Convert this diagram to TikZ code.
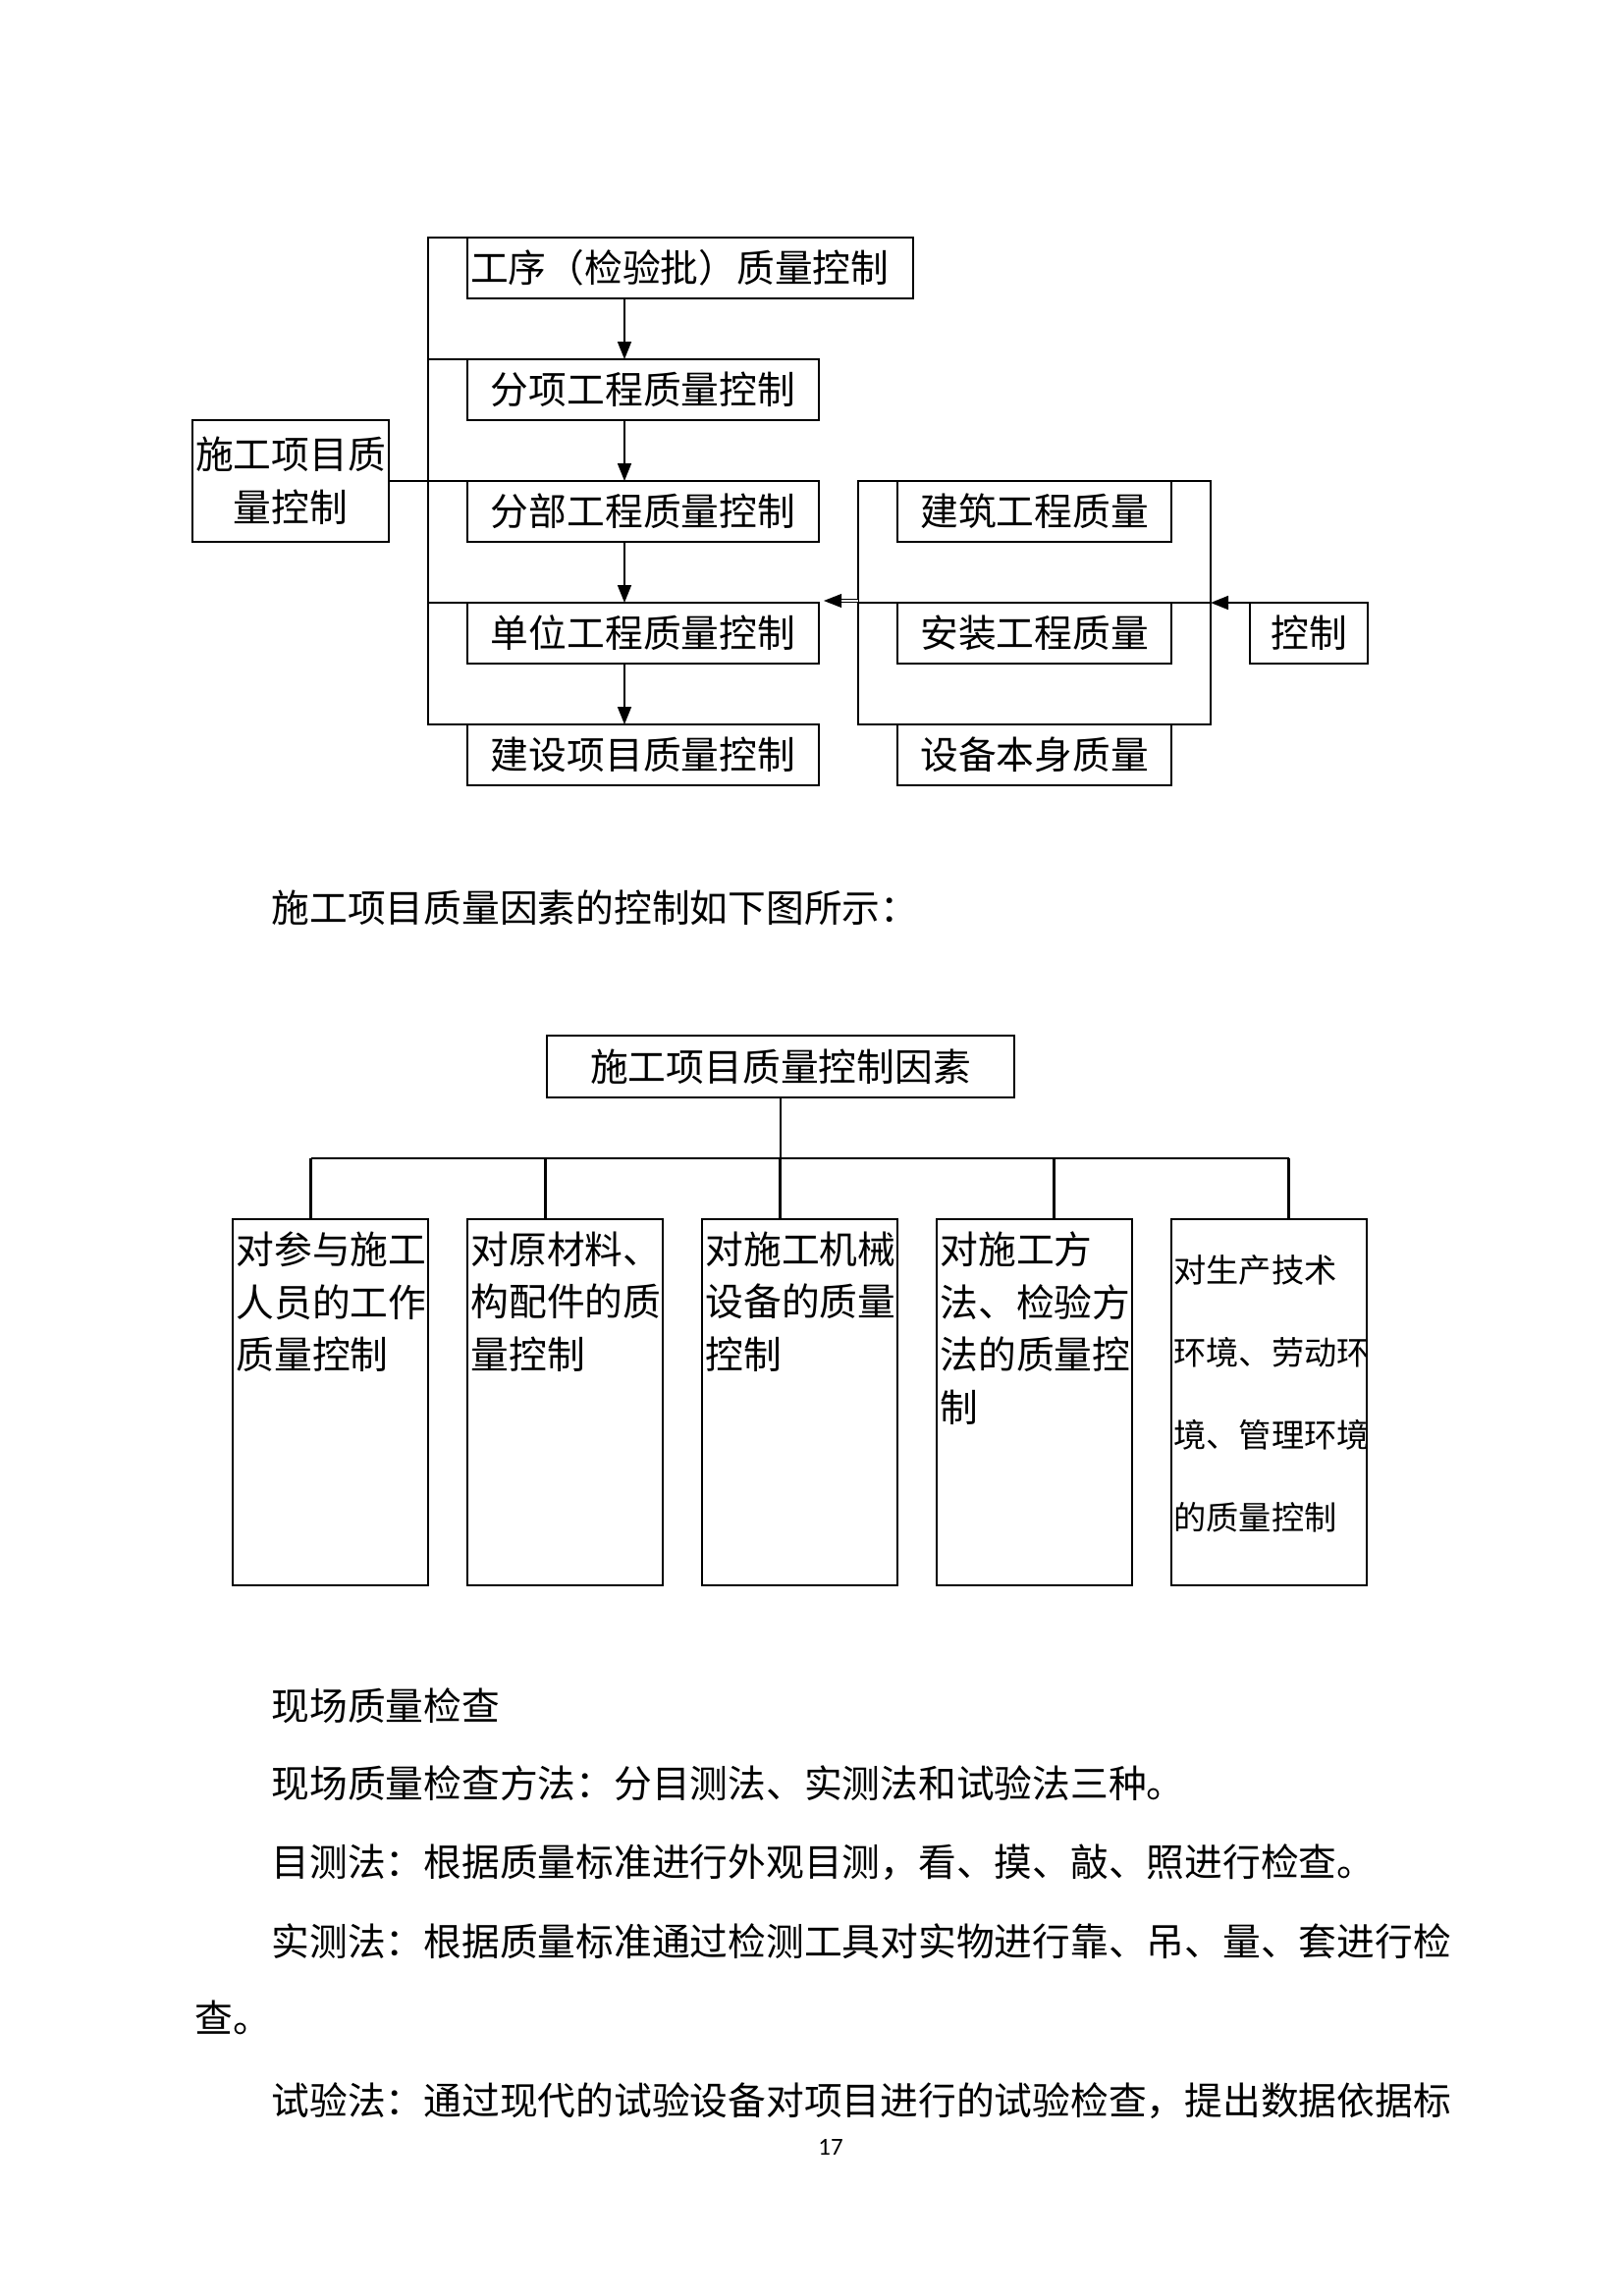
\documentclass[tikz,border=0pt]{standalone}
\usepackage{fontspec}
\setmainfont{Noto Sans CJK SC}
\newfontfamily\numfont{Carlito}
\usetikzlibrary{arrows.meta,calc}
\newdimen\px
\px=0.36127pt

\begin{document}
\begin{tikzpicture}[x=0.36127pt,y=-0.36127pt,
    box/.style={draw,line width=0.8pt,inner sep=0pt,outer sep=0pt,anchor=north west,
      minimum height=62\px,align=center,font=\fontsize{14}{19.4}\selectfont},
    factor/.style={draw,line width=0.8pt,inner sep=0pt,outer sep=0pt,anchor=north west,
      minimum width=199\px,minimum height=373\px},
    factortext/.style={anchor=north west,inner sep=0pt,align=left,font=\fontsize{14}{19.4}\selectfont},
    body/.style={anchor=west,inner sep=0pt,font=\fontsize{14}{17}\selectfont},
    link/.style={line width=0.8pt},
    arr/.style={line width=0.8pt,-{Triangle[length=6.5pt,width=5pt]}}]
  \useasboundingbox (0,0) rectangle (1654,2339);

  % levels of quality control
  \node[box,minimum width=200\px,minimum height=124\px] (src) at (196,428) {施工项目质\\量控制};
  \node[box,minimum width=454\px,inner xsep=3\px,text width=448\px,align=left] (b1) at (476,242) {工序（检验批）质量控制};
  \node[box,minimum width=358\px] (b2) at (476,366) {分项工程质量控制};
  \node[box,minimum width=358\px] (b3) at (476,490) {分部工程质量控制};
  \node[box,minimum width=358\px] (b4) at (476,614) {单位工程质量控制};
  \node[box,minimum width=358\px] (b5) at (476,738) {建设项目质量控制};

  % quality groups on the right
  \node[box,minimum width=279\px] (r1) at (914,490) {建筑工程质量};
  \node[box,minimum width=279\px] (r2) at (914,614) {安装工程质量};
  \node[box,minimum width=279\px] (r3) at (914,738) {设备本身质量};
  \node[box,minimum width=120\px] (ctl) at (1273,614) {控制};

  \coordinate (lb) at (436,0);
  \coordinate (ax) at (636,0);
  \coordinate (rl) at (874,0);
  \coordinate (rr) at (1233,0);

  % left bracket
  \draw[link] (b1.north west) -- (b1.north west -| lb) -- (b5.north west -| lb) -- (b5.north west);
  \foreach \b in {b2,b3,b4}
    \draw[link] (\b.north west -| lb) -- (\b.north west);
  \draw[link] (src.east) -- (b3.north west -| lb);

  % arrows down
  \draw[arr] (b1.south -| ax) -- (b2.north -| ax);
  \draw[arr] (b2.south -| ax) -- (b3.north -| ax);
  \draw[arr] (b3.south -| ax) -- (b4.north -| ax);
  \draw[arr] (b4.south -| ax) -- (b5.north -| ax);

  % right bracket
  \draw[link] (r1.north west -| rl) rectangle (r3.north east -| rr);
  \draw[link] (r2.north west -| rl) -- (r2.north east -| rr);
  \draw[arr] (ctl.north west) -- (ctl.north west -| rr);
  \draw[arr,line width=0.4pt,double,double distance=0.8pt] ($(r2.north west -| rl)+(0,-2)$) -- ($(b4.north east)+(5,-2)$);

  % caption
  \node[body] (cap) at (276,925) {施工项目质量因素的控制如下图所示：};

  % factors
  \node[box,minimum width=476\px,minimum height=63\px] (top) at (557,1055) {施工项目质量控制因素};
  \node[factor] (f1) at (237,1242) {};
  \node[factor] (f2) at (476,1242) {};
  \node[factor] (f3) at (715,1242) {};
  \node[factor] (f4) at (954,1242) {};
  \node[factor] (f5) at (1193,1242) {};
  \node[factortext] (t1) at ($(f1.north west)+(3,12)$) {对参与施工\\人员的工作\\质量控制};
  \node[factortext] (t2) at ($(f2.north west)+(3,12)$) {对原材料、\\构配件的质\\量控制};
  \node[factortext] (t3) at ($(f3.north west)+(3,12)$) {对施工机械\\设备的质量\\控制};
  \node[factortext] (t4) at ($(f4.north west)+(3,12)$) {对施工方\\法、检验方\\法的质量控\\制};
  \node[factortext,font=\fontsize{12}{30.4}\selectfont] (t5) at ($(f5.north west)+(2,36)$) {对生产技术\\环境、劳动环\\境、管理环境\\的质量控制};

  \coordinate (bar) at (0,1180);
  \foreach \f/\dx in {f1/-20,f2/-20,f3/-20,f4/20,f5/20}
    \coordinate (d\f) at ($(\f.north)+(\dx,0)$);
  \draw[link] (top.south) -- (top.south |- bar);
  \draw[link] (df1 |- bar) -- (df5 |- bar);
  \foreach \f in {f1,f2,f3,f4,f5}
    \draw[link] (d\f |- bar) -- (d\f);

  % text below
  \node[body] (p1) at (276,1738) {现场质量检查};
  \node[body] (p2) at (276,1817) {现场质量检查方法：分目测法、实测法和试验法三种。};
  \node[body] (p3) at (276,1897) {目测法：根据质量标准进行外观目测，看、摸、敲、照进行检查。};
  \node[body] (p4) at (276,1978) {实测法：根据质量标准通过检测工具对实物进行靠、吊、量、套进行检};
  \node[body] (p5) at (198,2055) {查。};
  \node[body] (p6) at (276,2140) {试验法：通过现代的试验设备对项目进行的试验检查，提出数据依据标};
  \node[font=\numfont\fontsize{9}{11}\selectfont] (pg) at (846,2187) {17};
\end{tikzpicture}
\end{document}
